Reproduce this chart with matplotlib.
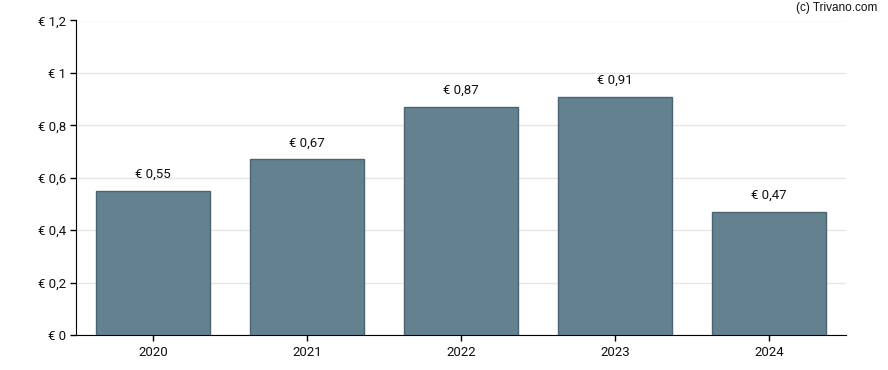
import numpy as np
import matplotlib.pyplot as plt

years = ['2020', '2021', '2022', '2023', '2024']
values = [0.55, 0.67, 0.87, 0.91, 0.47]
yticks = [0, 0.2, 0.4, 0.6, 0.8, 1.0, 1.2]


def euro(v):
    s = ('%.2f' % v).rstrip('0').rstrip('.')
    return '€ ' + s.replace('.', ',')


plt.rcParams['font.family'] = ['Roboto', 'DejaVu Sans']

fig = plt.figure(figsize=(8.88, 3.7), dpi=100)
ax = fig.add_axes([76 / 888, 1 - 335 / 370, 770 / 888, 314.5 / 370])

x = np.arange(len(years))
ax.bar(x, values, width=0.74, color='#64818f', edgecolor='#4a6474', linewidth=1, zorder=3)

for xi, v in zip(x, values):
    ax.text(xi, v + 0.038, euro(v), ha='center', va='bottom', fontsize=9.5, color='#111111')

ax.set_xlim(-0.5, len(years) - 0.5)
ax.set_ylim(0, 1.2)
ax.set_xticks(x)
ax.set_xticklabels(years, fontsize=9.5)
ax.set_yticks(yticks)
ax.set_yticklabels([euro(t) for t in yticks], fontsize=9.5)
ax.grid(axis='y', color='#e6e6e6', linewidth=1, zorder=0)

for side in ['top', 'right']:
    ax.spines[side].set_visible(False)
ax.spines['left'].set_color('black')
ax.spines['bottom'].set_color('black')
ax.tick_params(axis='both', length=4, width=1, color='black', labelcolor='#111111')
ax.tick_params(axis='x', pad=4)
ax.tick_params(axis='y', pad=3)

fig.text(877 / 888, 1 - 8 / 370, '(c) Trivano.com', ha='right', va='center',
         fontsize=8.5, family=['Liberation Sans', 'DejaVu Sans'], color='#111111')

fig.savefig('out.png', dpi=100)
